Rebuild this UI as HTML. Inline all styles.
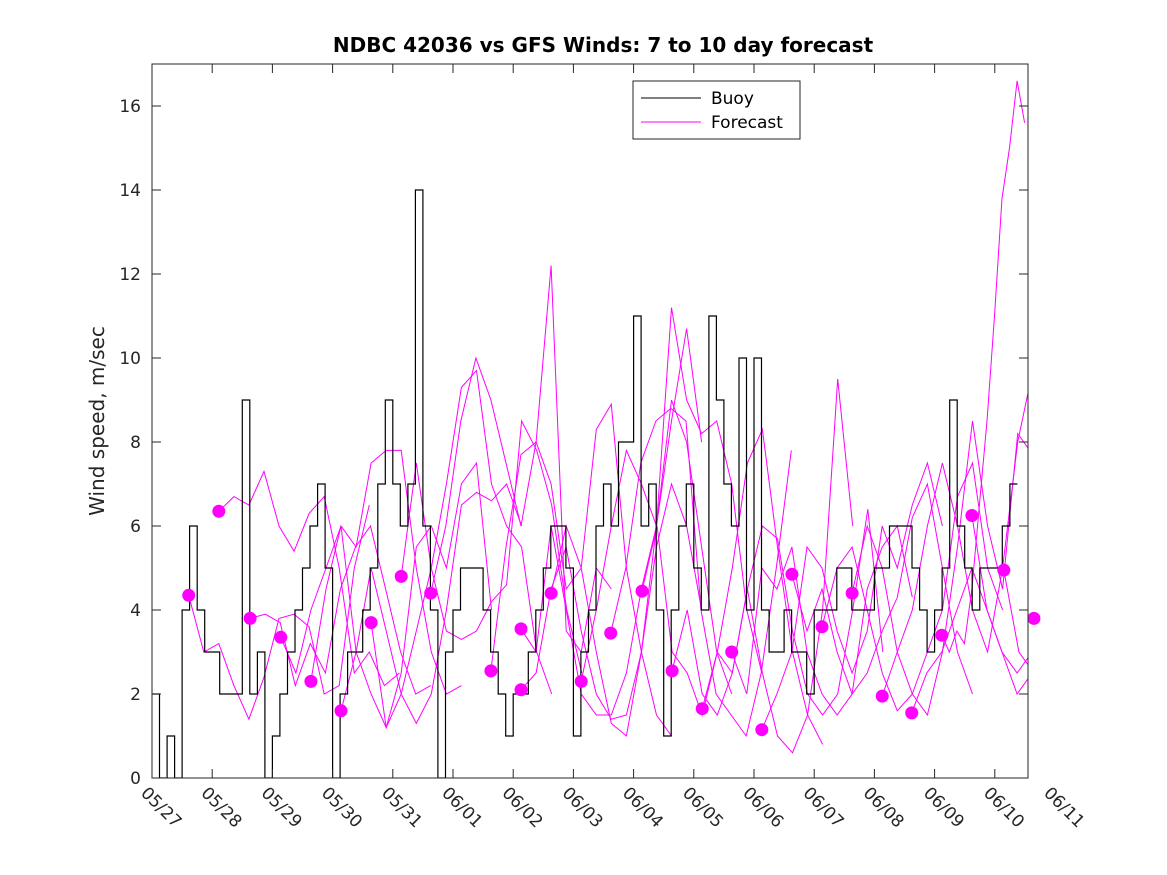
<!DOCTYPE html>
<html><head><meta charset="utf-8"><style>
body{margin:0;background:#fff;}
svg{display:block;font-family:"DejaVu Sans","Liberation Sans",sans-serif;}
</style></head><body>
<svg id="chart" width="1167" height="875" viewBox="0 0 1167 875">
<rect x="0" y="0" width="1167" height="875" fill="#fff"/>
<text x="603" y="52" text-anchor="middle" font-size="20" font-weight="bold" fill="#000">NDBC 42036 vs GFS Winds: 7 to 10 day forecast</text>
<text transform="translate(104,421) rotate(-90)" text-anchor="middle" font-size="20" fill="#262626">Wind speed, m/sec</text>
<defs><clipPath id="plotclip"><rect x="152" y="64" width="876" height="714"/></clipPath></defs>
<g id="fc" clip-path="url(#plotclip)"></g>
<g id="buoy" clip-path="url(#plotclip)"></g>
<g id="dots"></g>
<g id="axes"></g>
<g>
<rect x="633" y="81" width="167" height="58" fill="#fff" stroke="#262626" stroke-width="1"/>
<line x1="641" y1="98" x2="701" y2="98" stroke="#000" stroke-width="1"/>
<text x="711" y="104" font-size="17" fill="#000">Buoy</text>
<line x1="641" y1="122" x2="701" y2="122" stroke="#ff00ff" stroke-width="1"/>
<text x="711" y="128" font-size="17" fill="#000">Forecast</text>
</g>
</svg>
<script>
const dayLabels=["05/27","05/28","05/29","05/30","05/31","06/01","06/02","06/03","06/04","06/05","06/06","06/07","06/08","06/09","06/10","06/11"];
const yTicks=[0,2,4,6,8,10,12,14,16];
// buoy, 3-hourly from 05/27 00:00 (8 per day)
const buoyVals=[2,0,1,0,4,6,4,3,
3,2,2,2,9,2,3,0,
1,2,3,4,5,6,7,5,
0,2,3,3,4,5,7,9,
7,6,7,14,6,4,0,3,
4,5,5,5,4,3,2,1,
2,2,3,4,5,6,6,5,
1,3,4,6,7,6,8,8,
11,6,7,4,1,4,6,7,
5,4,11,9,7,6,10,4,
10,4,3,3,4,3,3,2,
4,4,4,5,5,4,4,4,
5,5,6,6,6,5,4,3,
4,5,9,6,5,4,5,5,
5,6,7];
// forecast runs: start day, time step (days) and values
const fcStart=[0.61,1.11,1.63,2.14,2.64,3.14,3.64,4.14,4.63,5.63,6.13,6.13,6.63,7.13,7.62,8.14,8.64,9.14,9.63,10.13,10.63,11.13,11.63,12.13,12.62,13.12,13.62,14.15];
const fcStep=[0.25,0.25,0.25,0.25,0.25,0.25,0.25,0.25,0.25,0.25,0.25,0.25,0.25,0.25,0.25,0.25,0.25,0.25,0.25,0.25,0.25,0.25,0.25,0.25,0.25,0.125,0.25,0.25];
const fcVals=[
[4.35,3,3.2,2.2,1.4,2.4,3.8,3.9,3.6,2,2.2,5,6.5],
[6.35,6.7,6.5,7.3,6,5.4,6.3,6.7,5,2.5,3,2.2,2.5],
[3.8,3.9,3.7,2.2,3.2,2.5,4.5,5.5,6,4.5,3,2,2.2],
[3.35,2.5,4,5,6,5.5,7.5,7.8,7.8,5,3,2,2.2],
[2.3,4.5,6,3,2,1.2,2.5,5.5,6,5,7,7.5,4],
[1.6,3,5,3.5,2,1.3,2,4,6.5,6.8,6.6,7,6],
[3.7,1.2,2,3.5,5,7,9.3,9.7,7,6,5.5,3,2],
[4.8,7.5,5,3.5,3.3,3.5,4.2,4.6,8.5,7.8,6.5,4,2.5],
[4.4,6,8.5,10,9,7.5,6,8,12.2,3.5,3,5,4.5],
[2.55,5.5,7.7,8,7,4.5,5,8.3,8.9,5,3,1.5,1],
[3.55,3,6,4,2,1.5,1.5,2.5,4.5,6,8.5,10.7,8],
[2.1,2.5,4.5,5.5,3.5,2,1.4,1.5,3,5.5,7,6,4],
[4.4,6,5,3,1.3,1,3,6,9,8,5.5,3,2],
[2.3,4,6,7.8,7,6,11.2,9,8.2,8.5,7,4,2.5],
[3.45,5,7.5,8.5,8.8,8.5,4,2,1.5,1,2.5,5,7.8],
[4.45,6,3,2.5,1.5,3,5,7.5,8.3,5.5,3,1.5,0.8],
[2.55,4,2,1.5,2.5,4.5,2.5,1,0.6,1.5,4,9.5,6],
[1.65,3,2.5,4.5,6,5.7,3.5,2,1.5,2,4,6.4,3],
[3.0,2,5,4.5,5.5,3,2,1.5,2,4.5,5.5,6,4.3],
[1.15,2,3,5.5,5,3.5,2.5,3.5,6,5,6.5,7.5,6],
[4.85,3.5,4.5,3,2,2.5,3.5,4.3,6.2,7,5,3,2],
[3.6,5,5.5,4,2.5,1.6,2,3,4,6.7,7.5,5,4],
[4.4,6,5,3,2,1.5,3,5.5,8.5,6,4.5,8.2,7.7],
[1.95,3,4,6,7.5,6,4,3,5,8,9.7,10.2,7.3],
[1.55,2.5,3,4,5,4,3,2,2.5,1.5,1,3,2],
[3.4,3,3.5,3.2,4.5,6.5,8.5,11,13.8,15,16.6,15.6],
[6.25,4,3,2.5,3,4,3,2.7,2,3,6.6,2,7.2],
[4.95,3,2.5,4,3.5,2,1,2.5,1.8]];
const extraDay=14.65, extraVal=3.8;

const X0=152,X1=1028,Y0=778,Y1=64,PXDAY=60.2,YMAX=17;
function xs(d){return X0+PXDAY*d;}
function ys(v){return Y0-(Y0-Y1)*v/YMAX;}
const NS="http://www.w3.org/2000/svg";
function mk(tag,attrs,parent){const e=document.createElementNS(NS,tag);for(const k in attrs)e.setAttribute(k,attrs[k]);parent.appendChild(e);return e;}

const fcG=document.getElementById('fc');
fcStart.forEach((s,i)=>{
  const vals=fcVals[i]||[];
  const st=fcStep[i];
  const pts=vals.map((v,j)=>xs(s+j*st).toFixed(1)+','+ys(v).toFixed(1)).join(' ');
  const pl=mk('polyline',{points:pts,fill:'none',stroke:'#ff00ff','stroke-width':1},fcG);
  
  
});
const bG=document.getElementById('buoy');
let d='';
const bStep=0.125;
buoyVals.forEach((v,i)=>{
  const xa=xs(i*bStep),xb=xs((i+1)*bStep),y=ys(v);
  d+=(i===0?'M':'L')+xa.toFixed(1)+','+y.toFixed(1)+'L'+xb.toFixed(1)+','+y.toFixed(1);
});
const bp=mk('path',{d:d,fill:'none',stroke:'#000','stroke-width':1.2},bG);


const dG=document.getElementById('dots');
fcStart.forEach((s,i)=>{
  const c=mk('circle',{cx:xs(s),cy:ys(fcVals[i][0]),r:6.5,fill:'#ff00ff'},dG);
  
  
});
{
  const c=mk('circle',{cx:xs(extraDay),cy:ys(extraVal),r:6.5,fill:'#ff00ff'},dG);
  
  
}
const aG=document.getElementById('axes');
const box=mk('rect',{x:X0,y:Y1,width:X1-X0,height:Y0-Y1,fill:'none',stroke:'#262626','stroke-width':1},aG);


yTicks.forEach(v=>{
  const y=ys(v);
  mk('line',{x1:X0,y1:y,x2:X0+9,y2:y,stroke:'#262626'},aG);
  mk('line',{x1:X1,y1:y,x2:X1-9,y2:y,stroke:'#262626'},aG);
  const t=mk('text',{x:X0-11,y:y+6,'text-anchor':'end','font-size':17,fill:'#262626'},aG);
  t.textContent=v;
  
  
});
dayLabels.forEach((lab,i)=>{
  const x=xs(i);
  if(x<=X1){
    mk('line',{x1:x,y1:Y0,x2:x,y2:Y0-9,stroke:'#262626'},aG);
    mk('line',{x1:x,y1:Y1,x2:x,y2:Y1+9,stroke:'#262626'},aG);
  }
  const t=mk('text',{transform:'translate('+(x-12)+','+(Y0+16)+') rotate(45)','font-size':17,fill:'#262626'},aG);
  t.textContent=lab;
  
  
});
</script>
</body></html>
